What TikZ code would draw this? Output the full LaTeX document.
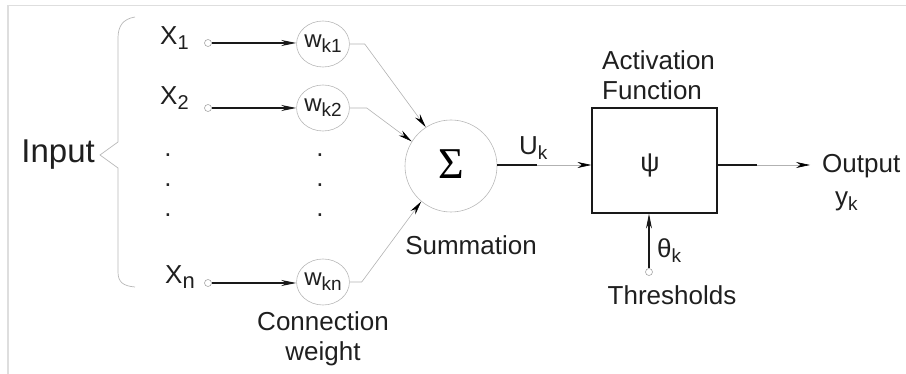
\documentclass[tikz,border=0pt]{standalone}
\usepackage{fontspec}
\setmainfont{Liberation Sans}
\newfontfamily\sigmafont{Liberation Serif}
\usetikzlibrary{arrows.meta,shapes.geometric}
\newcommand\lowsub[2][20]{\raisebox{-5pt}{\fontsize{#1}{#1}\selectfont #2}}
\begin{document}
\begin{tikzpicture}[x=1pt,y=-1pt,
  lbl/.style={inner sep=0pt, font=\fontsize{26}{30}\selectfont, text=black!88},
  sym/.style={inner sep=0pt, font=\fontsize{26}{26}\selectfont, text=black!88},
  wnode/.style={ellipse, draw=black!28, line width=0.6pt, minimum width=50pt, minimum height=46pt, inner sep=0pt, font=\fontsize{24}{24}\selectfont, text=black!88},
  pinc/.style={circle, draw=black!35, line width=0.6pt, minimum size=7pt, inner sep=0pt},
  dotn/.style={inner sep=0pt, font=\fontsize{26}{26}\selectfont, text=black!85},
  tipa/.style={-{Stealth[length=15pt,width=6pt]}},
  tipg/.style={-{Stealth[length=14pt,width=6pt,color=black]}},
  darkline/.style={draw=black!90, line width=1.1pt},
  lightline/.style={draw=black!30, line width=0.6pt},
]
\useasboundingbox (0,0) rectangle (906,374);
\draw[black!13, line width=1.6pt] (8,374) -- (8,5.5) -- (906,5.5);

% input side
\node[lbl, font=\fontsize{33}{34}\selectfont, anchor=base east] (input) at (95,163) {Input};
\draw[black!28, line width=0.7pt] (135,17) .. controls (123,19) and (118,26) .. (118,38) -- (118,142) -- (100,155) -- (118,168) -- (118,272) .. controls (118,282) and (123,286) .. (135,287);

\node[sym, anchor=base west] (x1) at (160,45) {X\lowsub{1}};
\node[sym, anchor=base west] (x2) at (160,105) {X\lowsub{2}};
\node[sym, anchor=base west] (xn) at (165,284) {X\lowsub[22]{n}};

\node[pinc] (p1) at (208,43) {};
\node[pinc] (p2) at (208,108) {};
\node[pinc] (pn) at (208,283) {};

\node[wnode] (w1) at (323,44) {w\lowsub[19]{k1}};
\node[wnode] (w2) at (323,108) {w\lowsub[19]{k2}};
\node[wnode] (wn) at (323,282) {w\lowsub[19]{kn}};

\node[dotn] (d1) at (168,155) {.};
\node[dotn] (d2) at (168,185) {.};
\node[dotn] (d3) at (168,215) {.};
\node[dotn] (d4) at (320,155) {.};
\node[dotn] (d5) at (320,185) {.};
\node[dotn] (d6) at (320,215) {.};

\draw[darkline, tipa] (p1.east) -- (w1.west |- p1.east);
\draw[darkline, tipa] (p2.east) -- (w2.west |- p2.east);
\draw[darkline, tipa] (pn.east) -- (wn.west |- pn.east);

\node[lbl, anchor=base, align=center] (cw) at (323,360) {Connection\\weight};

% summation
\node[circle, draw=black!28, line width=0.6pt, minimum size=92pt, inner sep=0pt] (sigma) at (451,166) {\raisebox{3pt}{\sigmafont\fontsize{44}{44}\selectfont Σ}};
\node[lbl, anchor=base] (summ) at (471,255) {Summation};

\draw[lightline, tipg] (w1.east) -- ++(15,0) -- (sigma.123);
\draw[lightline, tipg] (w2.east) -- ++(17,0) -- (sigma.148);
\draw[lightline, tipg] (wn.east) -- ++(12,0) -- (sigma.230);

% activation
\node[draw=black!90, line width=1.2pt, minimum width=125pt, minimum height=105pt, inner sep=0pt] (box) at (654.5,160.5) {};
\node[inner sep=0pt, font=\fontsize{27}{27}\selectfont, text=black!88] (psi) at (650,165) {ψ};
\node[lbl, anchor=base west, align=left] (act) at (602,100) {Activation\\Function};

\coordinate (ukmid) at (537,165);
\draw[darkline] (sigma.east |- ukmid) -- (ukmid);
\draw[lightline, tipg] (ukmid) -- (ukmid -| box.west);
\node[sym, anchor=base west] (uk) at (519,155) {U\lowsub[19]{k}};

\coordinate (outmid) at (757,165);
\coordinate (outend) at (810,165);
\draw[darkline] (outmid -| box.east) -- (outmid);
\draw[lightline, tipg] (outmid) -- (outend);
\node[lbl, anchor=base west] (out) at (822,173) {Output};
\node[sym, anchor=base west] (yk) at (835,206) {y\lowsub[19]{k}};

% threshold
\node[pinc] (pt) at (649,272) {};
\draw[darkline, tipa] (pt.north) -- (pt.north |- box.south);
\node[sym, anchor=base west] (th) at (657,258) {θ\lowsub[19]{k}};
\node[lbl, anchor=base] (thr) at (672,305) {Thresholds};
\end{tikzpicture}
\end{document}
